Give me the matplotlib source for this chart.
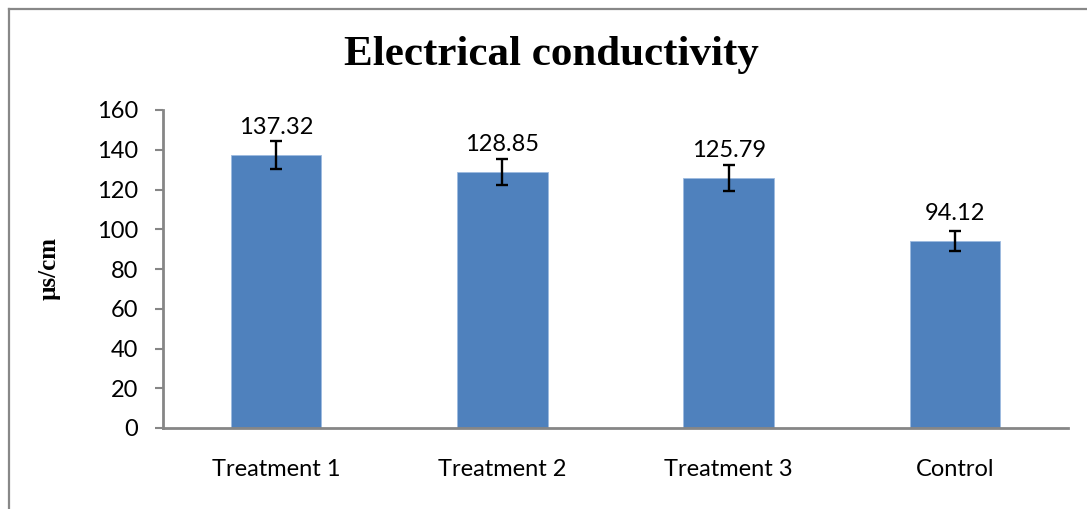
import matplotlib
matplotlib.use("Agg")
import matplotlib.pyplot as plt
from matplotlib.lines import Line2D

categories = ["Treatment 1", "Treatment 2", "Treatment 3", "Control"]
values = [137.32, 128.85, 125.79, 94.12]
errors = [7.0, 6.5, 6.3, 5.0]
labels = ["137.32", "128.85", "125.79", "94.12"]
yticks = [0, 20, 40, 60, 80, 100, 120, 140, 160]

W, H = 1087, 509
fig = plt.figure(figsize=(W / 100, H / 100), dpi=100)
ax = fig.add_axes([163 / W, 1 - 428 / H, (1068 - 163) / W, (428 - 110) / H])

x = list(range(len(categories)))
ax.bar(x, values, width=0.4, color="#4F81BD", edgecolor="#9DBBE0", linewidth=0.6, zorder=2)
ax.errorbar(x, values, yerr=errors, fmt="none", ecolor="black", elinewidth=1.7,
            capsize=4.5, capthick=1.7, zorder=3)

tickfont = "Lato"
fs = 17
for xi, v, lab in zip(x, values, labels):
    ax.annotate(lab, (xi, v), xytext=(0, 12), textcoords="offset points",
                ha="center", va="bottom", fontsize=fs, family=tickfont, color="black")

ax.set_xlim(-0.5, len(categories) - 0.5)
ax.set_ylim(0, 160)
ax.set_yticks(yticks)
ax.set_yticklabels([str(t) for t in yticks], fontsize=fs, family=tickfont)
ax.set_xticks(x)
ax.set_xticklabels(categories, fontsize=fs, family=tickfont)
ax.tick_params(axis="x", length=0, pad=22)
ax.tick_params(axis="y", length=6, width=1.5, color="#868686", pad=12, direction="out")

for s in ["top", "right"]:
    ax.spines[s].set_visible(False)
for s in ["left", "bottom"]:
    ax.spines[s].set_color("#868686")
    ax.spines[s].set_linewidth(2.0)

ax.set_ylabel("µs/cm", fontsize=18, fontweight="bold", family="Liberation Serif")
ax.yaxis.set_label_coords((61 - 163) / (1068 - 163), 0.5)

fig.text(551 / W, 1 - 55 / H, "Electrical conductivity", ha="center", va="center",
         fontsize=31, fontweight="bold", family="Liberation Serif")

# outer frame (left and top edges visible)
fig.add_artist(Line2D([8.5 / W, 8.5 / W], [0, 1 - 9 / H], transform=fig.transFigure,
                      color="#888888", linewidth=1.6))
fig.add_artist(Line2D([8.5 / W, 1], [1 - 9 / H, 1 - 9 / H], transform=fig.transFigure,
                      color="#888888", linewidth=1.6))

fig.savefig("out.png", dpi=100)
